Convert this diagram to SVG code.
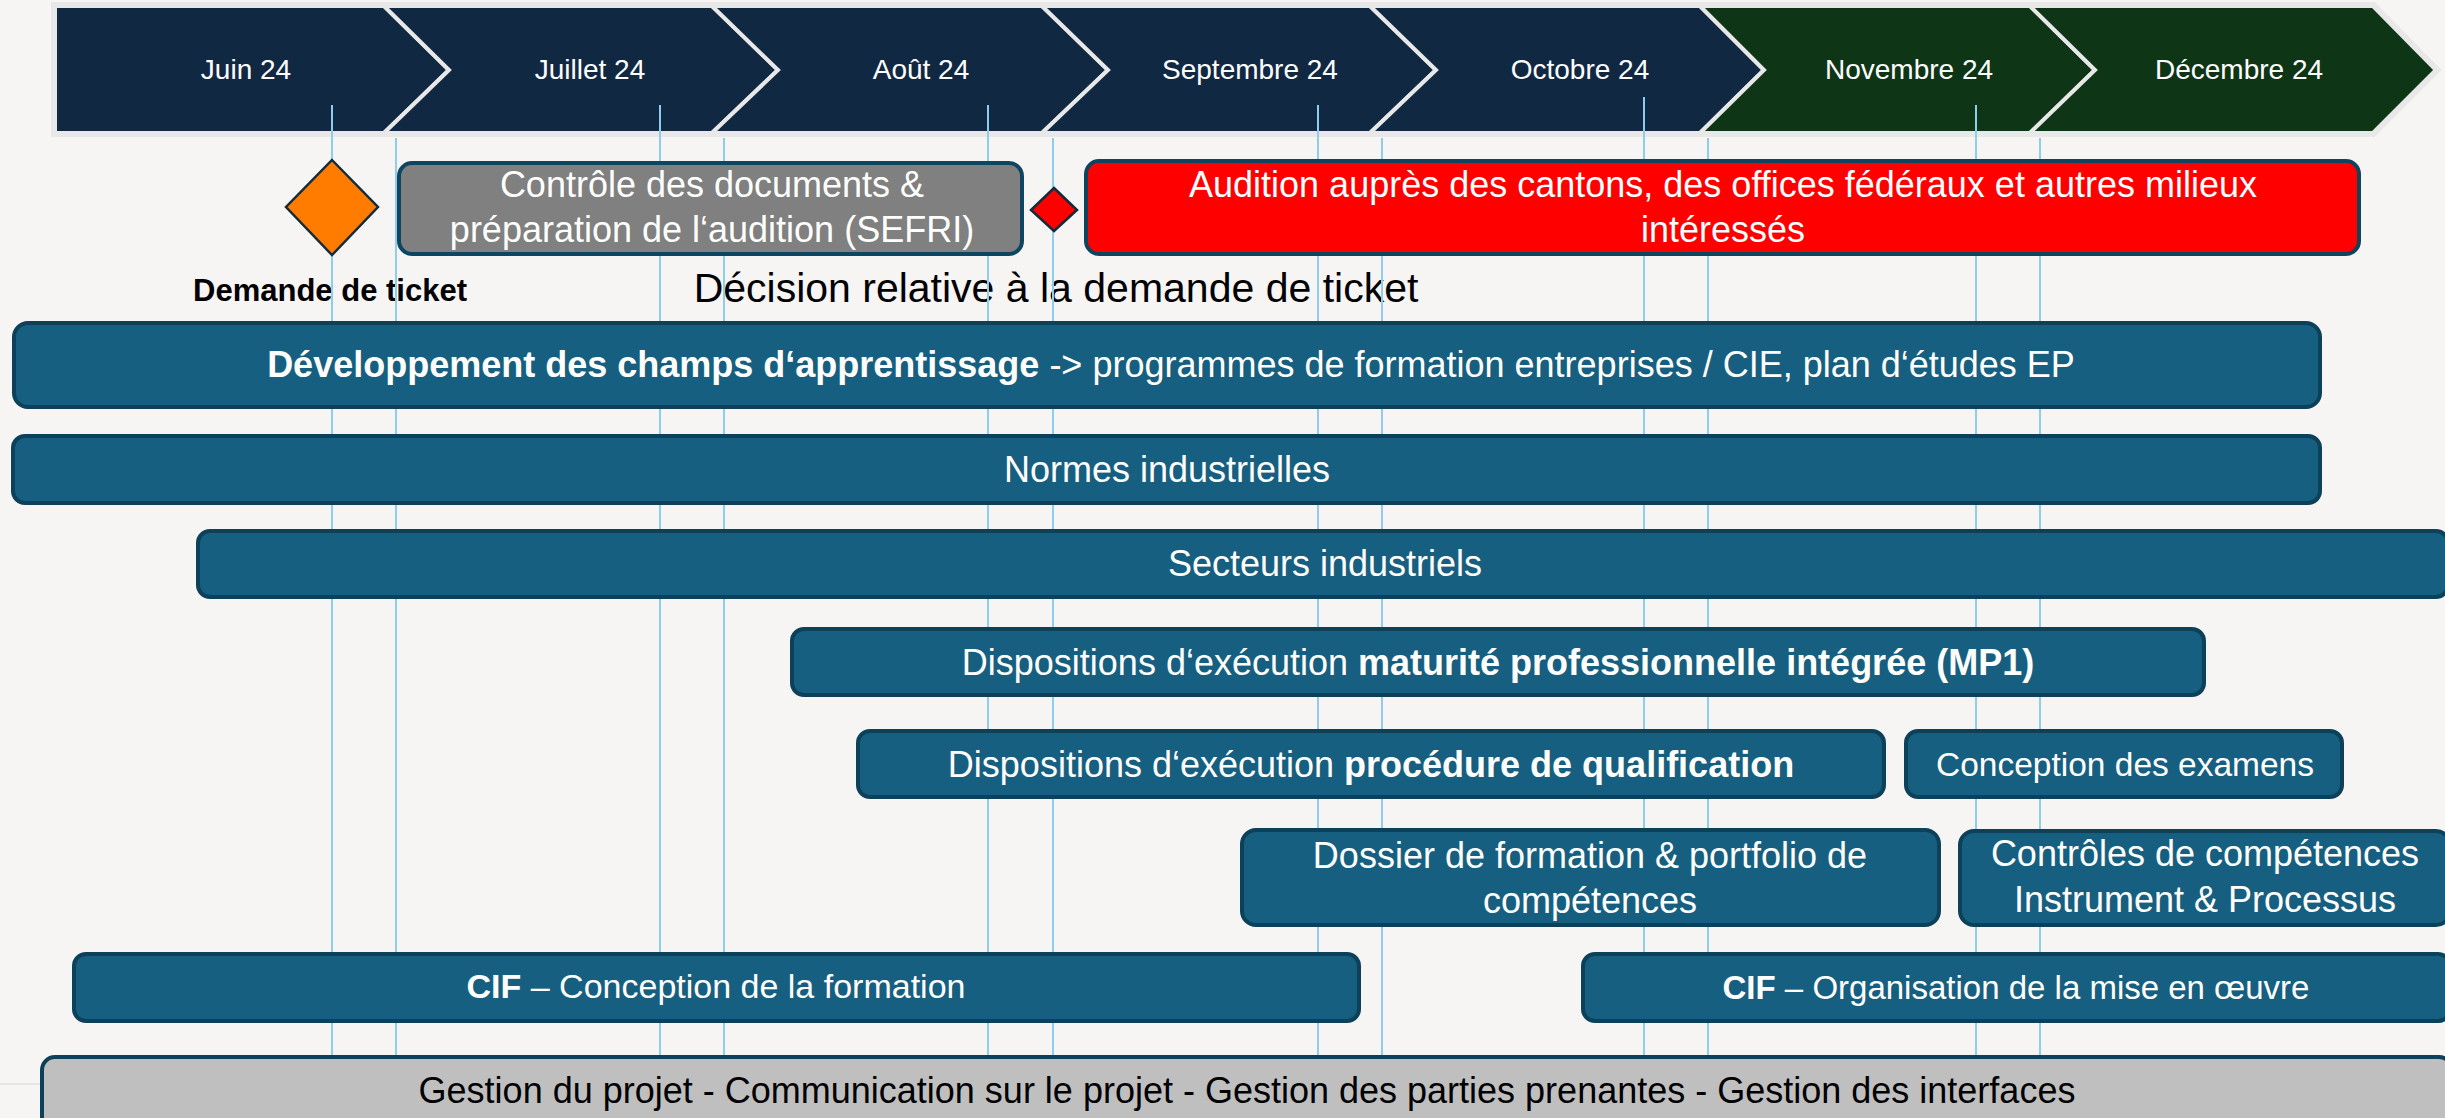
<svg xmlns="http://www.w3.org/2000/svg" width="2445" height="1118" viewBox="0 0 2445 1118">
<defs>
<style>
.bg{fill:#f6f5f3}
.chev{stroke:#e8e8e8;stroke-width:4;stroke-linejoin:miter}
.navy{fill:#112843}
.green{fill:#0f3517}
.month{font-family:"Liberation Sans",Arial,sans-serif;font-size:28px;fill:#ffffff;text-anchor:middle}
.vl{stroke:#8ecdee;stroke-width:2}
.bar{fill:#175f80;stroke:#0c4159;stroke-width:4}
.t{font-family:"Liberation Sans",Arial,sans-serif;font-size:36px;fill:#ffffff;text-anchor:middle}
.k{font-family:"Liberation Sans",Arial,sans-serif;fill:#000000;text-anchor:middle}
.b{font-weight:bold}
</style>
</defs>
<rect class="bg" x="0" y="0" width="2445" height="1118"/>
<line x1="0" y1="1084" x2="42" y2="1084" stroke="#e6e4e1" stroke-width="2"/>

<g id="timeline">
<polygon points="55,6 2373,6 2436,70 2373,133 55,133" fill="#e8e8e8" stroke="#e8e8e8" stroke-width="8" stroke-linejoin="miter"/>
<polygon class="chev navy" points="55,6 384,6 449,70 384,133 55,133"/>
<polygon class="chev navy" points="384,6 712,6 778,70 712,133 384,133 449,70"/>
<polygon class="chev navy" points="712,6 1042,6 1108,70 1042,133 712,133 778,70"/>
<polygon class="chev navy" points="1042,6 1370,6 1436,70 1370,133 1042,133 1108,70"/>
<polygon class="chev navy" points="1370,6 1700,6 1764,70 1700,133 1370,133 1436,70"/>
<polygon class="chev green" points="1700,6 2030,6 2095,70 2030,133 1700,133 1764,70"/>
<polygon class="chev green" points="2030,6 2373,6 2436,70 2373,133 2030,133 2095,70"/>
<text class="month" x="246" y="79">Juin 24</text>
<text class="month" x="590" y="79">Juillet 24</text>
<text class="month" x="921" y="79">Août 24</text>
<text class="month" x="1250" y="79">Septembre 24</text>
<text class="month" x="1580" y="79">Octobre 24</text>
<text class="month" x="1909" y="79">Novembre 24</text>
<text class="month" x="2239" y="79">Décembre 24</text>
</g>

<g id="milestone-labels">
<text class="k b" x="330" y="301" style="font-size:31px">Demande de ticket</text>
<text class="k" x="1056" y="302" style="font-size:41px">Décision relative à la demande de ticket</text>
</g>

<g id="connectors">
<line class="vl" x1="332" y1="105" x2="332" y2="1058"/>
<line class="vl" x1="396" y1="138" x2="396" y2="1058"/>
<line class="vl" x1="660" y1="105" x2="660" y2="1058"/>
<line class="vl" x1="724" y1="138" x2="724" y2="1058"/>
<line class="vl" x1="988" y1="105" x2="988" y2="1058"/>
<line class="vl" x1="1053" y1="138" x2="1053" y2="1058"/>
<line class="vl" x1="1318" y1="105" x2="1318" y2="1058"/>
<line class="vl" x1="1382" y1="138" x2="1382" y2="1058"/>
<line class="vl" x1="1644" y1="97" x2="1644" y2="1058"/>
<line class="vl" x1="1708" y1="138" x2="1708" y2="1058"/>
<line class="vl" x1="1976" y1="105" x2="1976" y2="1058"/>
<line class="vl" x1="2040" y1="138" x2="2040" y2="1058"/>
</g>

<g id="ticket-request">
<polygon points="332,160 378,207 332,255 286,207" fill="#ff7c00" stroke="#132c3c" stroke-width="2.5"/>
</g>
<g id="ticket-decision">
<polygon points="1054,188 1077,210 1054,231 1031,210" fill="#ff0000" stroke="#132c3c" stroke-width="2.5"/>
</g>

<g id="controle">
<rect x="399" y="163" width="623" height="91" rx="13" fill="#808080" stroke="#0e4560" stroke-width="4"/>
<text class="t" x="712" y="197">Contrôle des documents &amp;</text>
<text class="t" x="712" y="242">préparation de l‘audition (SEFRI)</text>
</g>

<g id="audition">
<rect x="1086" y="161" width="1273" height="93" rx="13" fill="#ff0000" stroke="#10445e" stroke-width="4"/>
<text class="t" x="1723" y="197">Audition auprès des cantons, des offices fédéraux et autres milieux</text>
<text class="t" x="1723" y="242">intéressés</text>
</g>

<g id="champs">
<rect class="bar" x="14" y="323" width="2306" height="84" rx="14"/>
<text class="t" x="1171" y="377"><tspan class="b">Développement des champs d‘apprentissage</tspan> -&gt; programmes de formation entreprises / CIE, plan d‘études EP</text>
</g>

<g id="normes">
<rect class="bar" x="13" y="436" width="2307" height="67" rx="12"/>
<text class="t" x="1167" y="482">Normes industrielles</text>
</g>

<g id="secteurs">
<rect class="bar" x="198" y="531" width="2250" height="66" rx="12"/>
<text class="t" x="1325" y="576">Secteurs industriels</text>
</g>

<g id="mp1">
<rect class="bar" x="792" y="629" width="1412" height="66" rx="12"/>
<text class="t" x="1498" y="675">Dispositions d‘exécution <tspan class="b">maturité professionnelle intégrée (MP1)</tspan></text>
</g>

<g id="qualification">
<rect class="bar" x="858" y="731" width="1026" height="66" rx="12"/>
<text class="t" x="1371" y="777">Dispositions d‘exécution <tspan class="b">procédure de qualification</tspan></text>
</g>

<g id="examens">
<rect class="bar" x="1906" y="731" width="436" height="66" rx="12"/>
<text class="t" x="2125" y="776" style="font-size:33.5px">Conception des examens</text>
</g>

<g id="dossier">
<rect class="bar" x="1242" y="830" width="697" height="95" rx="14"/>
<text class="t" x="1590" y="868">Dossier de formation &amp; portfolio de</text>
<text class="t" x="1590" y="913">compétences</text>
</g>

<g id="controles-competences">
<rect class="bar" x="1960" y="831" width="490" height="94" rx="14"/>
<text class="t" x="2205" y="866">Contrôles de compétences</text>
<text class="t" x="2205" y="912">Instrument &amp; Processus</text>
</g>

<g id="cif-conception">
<rect class="bar" x="74" y="954" width="1285" height="67" rx="12"/>
<text class="t" x="716" y="998" style="font-size:34px"><tspan class="b">CIF</tspan> – Conception de la formation</text>
</g>

<g id="cif-organisation">
<rect class="bar" x="1583" y="954" width="867" height="67" rx="12"/>
<text class="t" x="2016" y="999" style="font-size:33px"><tspan class="b">CIF</tspan> – Organisation de la mise en œuvre</text>
</g>

<g id="gestion">
<rect x="42" y="1057" width="2410" height="80" rx="13" fill="#bfbfbf" stroke="#0c4159" stroke-width="4"/>
<text class="k" x="1247" y="1103" style="font-size:36px">Gestion du projet - Communication sur le projet - Gestion des parties prenantes - Gestion des interfaces</text>
</g>
</svg>
